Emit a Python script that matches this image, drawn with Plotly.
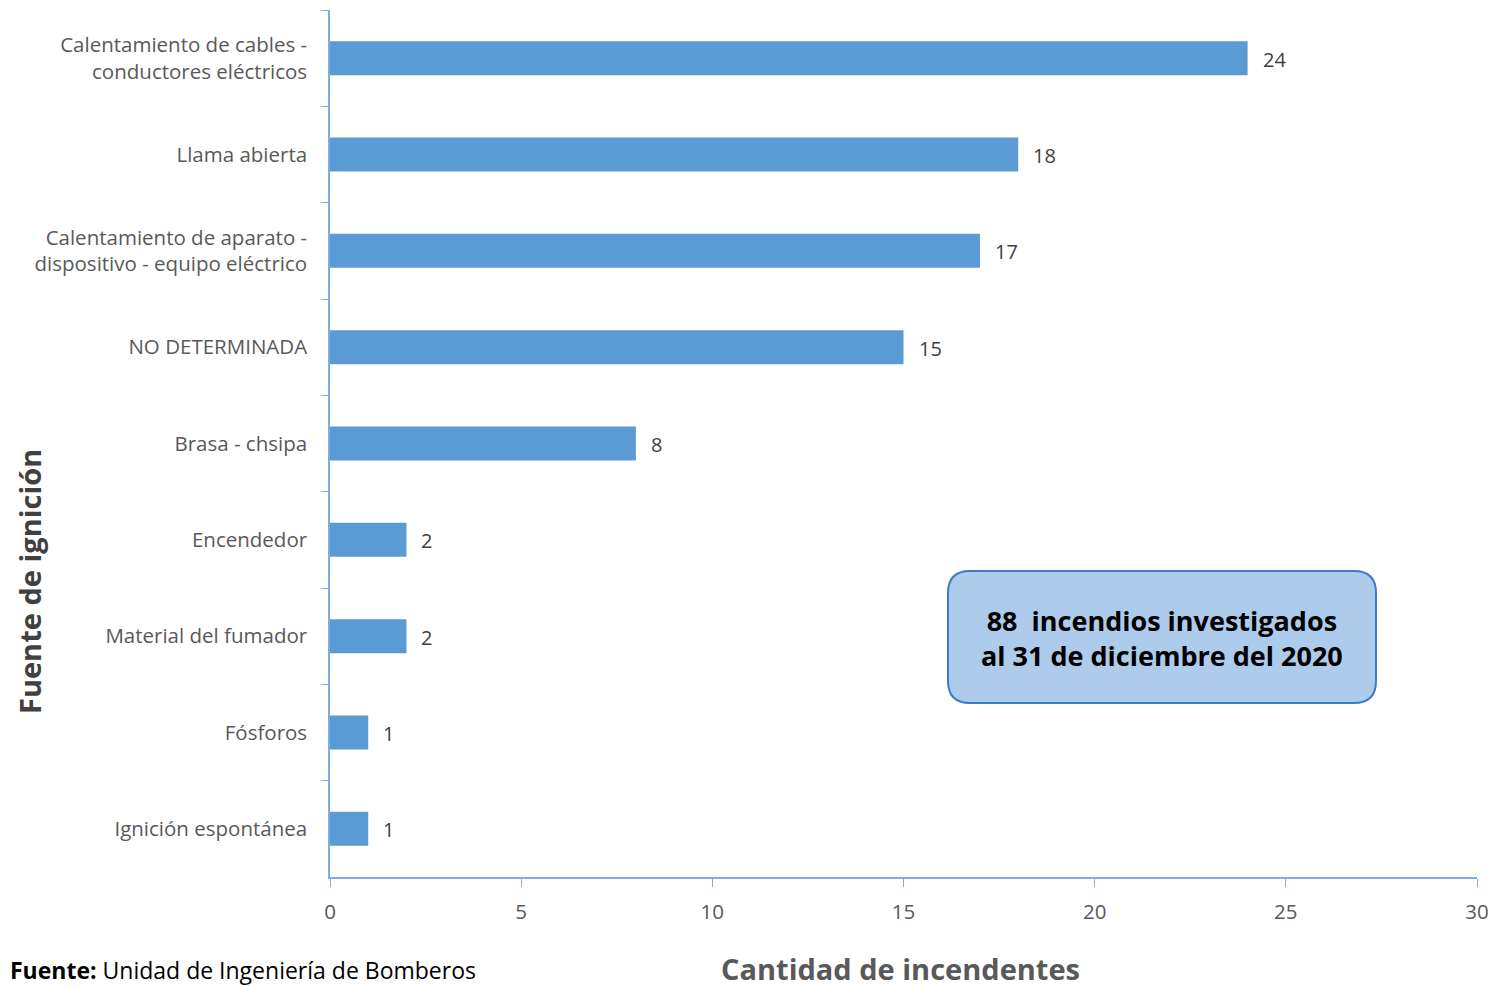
import plotly.graph_objects as go

categories = [
    "Calentamiento de cables -<br>conductores eléctricos",
    "Llama abierta",
    "Calentamiento de aparato -<br>dispositivo - equipo eléctrico",
    "NO DETERMINADA",
    "Brasa - chsipa",
    "Encendedor",
    "Material del fumador",
    "Fósforos",
    "Ignición espontánea",
]
values = [24, 18, 17, 15, 8, 2, 2, 1, 1]
x_ticks = [0, 5, 10, 15, 20, 25, 30]

FONT = "Open Sans"
BAR = "#5b9bd5"
AXIS = "#7eaee0"

# page body has an 8px margin; compensate so the picture lines up
OFF = 8
FW, FH = 1499 - OFF, 987 - OFF
L, T, R, B = 330 - OFF, 10 - OFF, 22, 110
W, H = FW - L - R, FH - T - B

def px(xp):
    return (xp - OFF - L) / W

def py(yp):
    return 1 - (yp - OFF - T) / H

fig = go.Figure()
fig.add_trace(go.Bar(
    x=values, y=categories, orientation="h",
    marker=dict(color=BAR, line=dict(width=0)),
    hoverinfo="skip",
))

for v, c in zip(values, categories):
    fig.add_annotation(x=v, y=c, xref="x", yref="y", text=str(v), showarrow=False,
                       xanchor="left", xshift=13, yshift=-1,
                       font=dict(family=FONT, size=20, color="#404040"))

fig.update_layout(
    width=FW, height=FH,
    margin=dict(l=L, r=R, t=T, b=B),
    paper_bgcolor="white", plot_bgcolor="white",
    bargap=0.647, showlegend=False,
    font=dict(family=FONT),
)
fig.update_xaxes(
    range=[0, 30], tickvals=x_ticks, ticktext=[str(t) for t in x_ticks],
    showgrid=False, zeroline=False,
    showline=True, linecolor=AXIS, linewidth=1.5,
    ticks="outside", ticklen=8, tickcolor=AXIS, tickwidth=1,
    tickfont=dict(family=FONT, size=20.5, color="#595959"),
    ticklabelstandoff=8,
)
fig.update_yaxes(
    autorange="reversed", type="category",
    showgrid=False, zeroline=False,
    showline=True, linecolor=AXIS, linewidth=1.5,
    ticks="outside", ticklen=7, tickcolor=AXIS, tickwidth=1,
    tickson="boundaries",
    tickfont=dict(family=FONT, size=20.5, color="#595959"),
    ticklabelstandoff=17,
)

# rounded info box (paper coords)
x0, x1 = px(948), px(1376)
y1, y0 = py(571), py(703)
rx, ry = 22 / W, 22 / H
path = (f"M {x0+rx},{y1} L {x1-rx},{y1} Q {x1},{y1} {x1},{y1-ry} "
        f"L {x1},{y0+ry} Q {x1},{y0} {x1-rx},{y0} "
        f"L {x0+rx},{y0} Q {x0},{y0} {x0},{y0+ry} "
        f"L {x0},{y1-ry} Q {x0},{y1} {x0+rx},{y1} Z")
fig.add_shape(type="path", path=path, xref="paper", yref="paper",
              fillcolor="#adcbea", line=dict(color="#3d7cc4", width=2), layer="above")
fig.add_annotation(x=(x0 + x1) / 2, y=py(638), xref="paper", yref="paper",
                   xanchor="center", yanchor="middle",
                   text="<b>88  incendios investigados<br>al 31 de diciembre del 2020</b>",
                   showarrow=False, align="center",
                   font=dict(family=FONT, size=27, color="black"))

# axis titles and source
fig.add_annotation(x=px(29), y=py(582), xref="paper", yref="paper",
                   xanchor="center", yanchor="middle",
                   text="<b>Fuente de ignición</b>", showarrow=False, textangle=-90,
                   font=dict(family=FONT, size=29, color="#404040"))
fig.add_annotation(x=px(900), y=py(969), xref="paper", yref="paper",
                   xanchor="center", yanchor="middle",
                   text="<b>Cantidad de incendentes</b>", showarrow=False,
                   font=dict(family=FONT, size=29, color="#595959"))
fig.add_annotation(x=px(OFF), y=py(970), xref="paper", yref="paper",
                   xanchor="left", yanchor="middle",
                   text="<b>Fuente:</b> Unidad de Ingeniería de Bomberos", showarrow=False,
                   font=dict(family=FONT, size=23, color="black"))

fig.write_html("out.html")
